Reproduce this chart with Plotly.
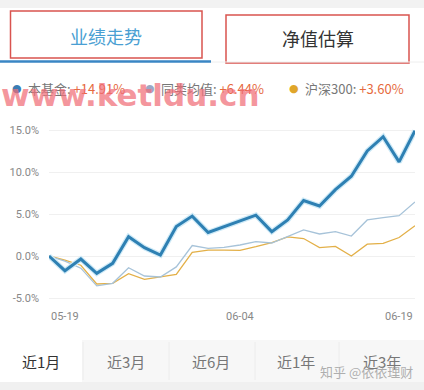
import plotly.graph_objects as go

dates = ["05-19", "05-20", "05-21", "05-22", "05-25", "05-26", "05-27", "05-28", "05-29",
         "06-01", "06-02", "06-03", "06-04", "06-05", "06-08", "06-09", "06-10", "06-11",
         "06-12", "06-15", "06-16", "06-17", "06-18", "06-19"]
fund = [0.0, -1.75, -0.36, -2.06, -0.87, 2.3, 0.99, 0.12, 3.5, 4.75, 2.8, 3.5,
        4.2, 4.86, 2.9, 4.3, 6.6, 5.95, 7.9, 9.5, 12.5, 14.2, 11.2, 14.91]
peer = [0.0, -0.6, -1.45, -3.55, -3.25, -1.4, -2.38, -2.5, -1.3, 1.25, 0.91, 1.03,
        1.31, 1.71, 1.55, 2.35, 3.1, 2.62, 2.9, 2.38, 4.29, 4.56, 4.8, 6.44]
hs300 = [0.0, -0.48, -1.1, -3.33, -3.25, -2.1, -2.78, -2.52, -2.2, 0.42, 0.71, 0.71,
         0.68, 1.11, 1.59, 2.28, 2.08, 1.0, 1.15, 0.0, 1.41, 1.51, 2.2, 3.6]
ytick_vals = [-5, 0, 5, 10, 15]
ytick_text = ["-5.0%", "0.0%", "5.0%", "10.0%", "15.0%"]
xlabel_idx = [0, 12, 23]
legend_names = ["本基金", "同类均值", "沪深300"]
legend_vals = ["+14.91%", "+6.44%", "+3.60%"]
top_tabs = ["业绩走势", "净值估算"]
bottom_tabs = ["近1月", "近3月", "近6月", "近1年", "近3年"]

W, H = 424, 390
L, R, T, B = 49, 9, 120, 85
PW, PH = W - L - R, H - T - B
CJK = "Noto Sans CJK SC"


def px(x):
    return (x - L) / PW


def py(y):
    return (H - B - y) / PH


fig = go.Figure()
xs = list(range(len(dates)))
fig.add_trace(go.Scatter(x=xs, y=hs300, mode="lines",
                         line=dict(color="#e3b048", width=1.3), hoverinfo="skip"))
fig.add_trace(go.Scatter(x=xs, y=peer, mode="lines",
                         line=dict(color="#a7c3d9", width=1.3), hoverinfo="skip"))
fig.add_trace(go.Scatter(x=xs, y=fund, mode="lines",
                         line=dict(color="#cfeaf7", width=5.5), hoverinfo="skip"))
fig.add_trace(go.Scatter(x=xs, y=fund, mode="lines",
                         line=dict(color="#2e80b3", width=3), hoverinfo="skip"))

shapes = []
ann = []
# top gray band
shapes.append(dict(type="rect", xref="paper", yref="paper", x0=px(0), x1=px(W), y0=py(8), y1=py(0),
                   fillcolor="#f2f2f2", line=dict(width=0), layer="below"))
# tab boxes
shapes.append(dict(type="rect", xref="paper", yref="paper", x0=px(10.5), x1=px(202), y0=py(58), y1=py(11),
                   line=dict(color="#d9544f", width=1.5), fillcolor="rgba(0,0,0,0)"))
shapes.append(dict(type="rect", xref="paper", yref="paper", x0=px(226), x1=px(409), y0=py(63), y1=py(15),
                   line=dict(color="#d9544f", width=1.5), fillcolor="rgba(0,0,0,0)"))
shapes.append(dict(type="line", xref="paper", yref="paper", x0=px(0), x1=px(211), y0=py(61.5), y1=py(61.5),
                   line=dict(color="#3a86c4", width=2.5)))
shapes.append(dict(type="line", xref="paper", yref="paper", x0=px(211), x1=px(W), y0=py(62), y1=py(62),
                   line=dict(color="#eeeeee", width=1)))
ann.append(dict(text=top_tabs[0], x=px(106), y=py(36), font=dict(family=CJK, size=18, color="#4a9fd3")))
ann.append(dict(text=top_tabs[1], x=px(318), y=py(38), font=dict(family=CJK, size=18, color="#333333")))

# legend
leg_colors = ["#3a7db3", "#9ba8c4", "#e0a62a"]
leg_x = [17, 150, 294]
for i in range(3):
    ann.append(dict(text="●", x=px(leg_x[i]), y=py(88), font=dict(family="DejaVu Sans", size=11,
                                                                   color=leg_colors[i])))
    ann.append(dict(text=f"<span style='color:#777'>{legend_names[i]}: </span>"
                         f"<span style='color:#e66a3e'>{legend_vals[i]}</span>",
                    x=px(leg_x[i] + 9), y=py(88), xanchor="left",
                    font=dict(family=CJK, size=13)))
# watermark
ann.append(dict(text="<b>www.ketldu.cn</b>", x=px(-1), y=py(95), xanchor="left",
                font=dict(family="DejaVu Sans", size=31, color="rgba(240,110,120,0.72)")))

# x labels
anchors = ["left", "center", "right"]
for k, i in enumerate(xlabel_idx):
    ann.append(dict(text=dates[i], x=i, xref="x", y=py(316), xanchor=anchors[k],
                    font=dict(family="Roboto", size=11, color="#888888")))

# bottom tabs
shapes.append(dict(type="rect", xref="paper", yref="paper", x0=px(82), x1=px(W), y0=py(382), y1=py(340),
                   fillcolor="#f7f7f7", line=dict(width=0), layer="below"))
shapes.append(dict(type="rect", xref="paper", yref="paper", x0=px(0), x1=px(W), y0=py(H), y1=py(382),
                   fillcolor="#f0f0f0", line=dict(width=0), layer="below"))
for sx in [83, 169, 255, 339]:
    shapes.append(dict(type="line", xref="paper", yref="paper", x0=px(sx), x1=px(sx), y0=py(380), y1=py(342),
                       line=dict(color="#ececec", width=1)))
tab_x = [41, 126, 211, 296, 382]
for i, t in enumerate(bottom_tabs):
    ann.append(dict(text=t, x=px(tab_x[i]), y=py(361),
                    font=dict(family=CJK, size=15, color="#333333" if i == 0 else "#777777")))
ann.append(dict(text="知乎 @依依理财", x=px(366), y=py(371),
                font=dict(family=CJK, size=13, color="rgba(150,150,150,0.75)")))

for a in ann:
    a.setdefault("xref", "paper")
    a.setdefault("yref", "paper")
    a.setdefault("showarrow", False)
    a.setdefault("xanchor", "center")
    a.setdefault("yanchor", "middle")

fig.update_layout(
    width=W, height=H, margin=dict(l=L, r=R, t=T, b=B),
    paper_bgcolor="white", plot_bgcolor="white", showlegend=False,
    shapes=shapes, annotations=ann,
    xaxis=dict(range=[0, len(dates) - 1], showgrid=False, zeroline=False, showticklabels=False,
               fixedrange=True),
    yaxis=dict(range=[(H - B - 256) / -8.4, (256 - T) / 8.4], tickvals=ytick_vals, ticktext=ytick_text,
               showgrid=True, gridcolor="#f0f0f0", gridwidth=1, zeroline=False,
               tickfont=dict(family="Roboto", size=11, color="#888888"), ticklabelstandoff=9,
               fixedrange=True),
)
fig.write_html("out.html", config={"displayModeBar": False},
               post_script="document.body.style.margin='0';document.body.style.overflow='hidden';")
